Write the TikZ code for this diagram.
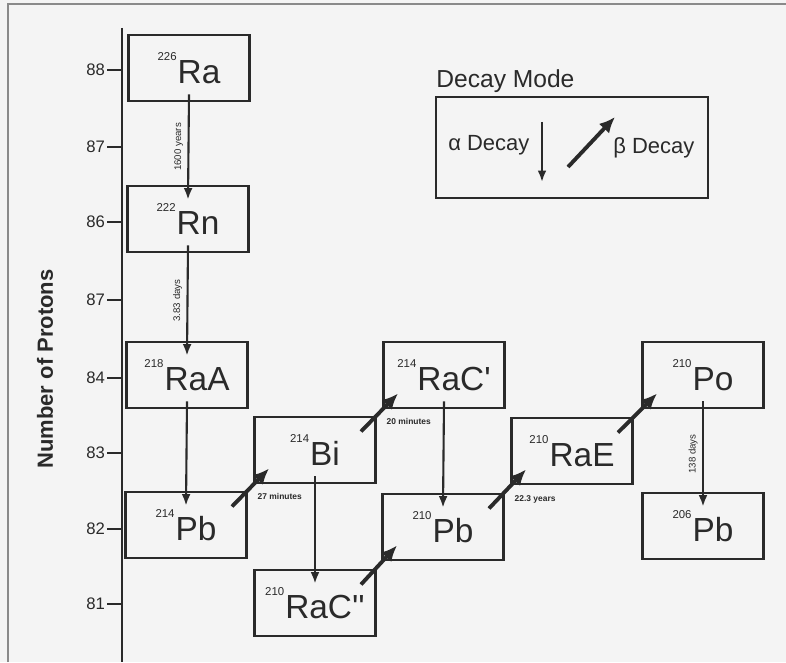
\documentclass[tikz,border=0pt]{standalone}
\usepackage{fontspec}
\setmainfont{Liberation Sans}
\usetikzlibrary{arrows.meta,positioning}
\definecolor{chainInk}{HTML}{2A2A2A}
\definecolor{chainPaper}{HTML}{F4F4F4}
\definecolor{chainFrame}{HTML}{8A8A8A}
\newcommand{\nucl}[2]{{\fontsize{6.5}{7}\selectfont\raisebox{13.4pt}{#1}}\kern0.6pt#2}

\begin{document}
\begin{tikzpicture}[x=0.02cm,y=-0.02cm,
  nuc/.style={draw=chainInk,line width=1.5pt,minimum width=2.42cm,minimum height=1.32cm,
              inner sep=0pt,font=\fontsize{19}{21}\selectfont,text=chainInk},
  alp/.style={-{Latex[length=6.5pt,width=5pt]},line width=1.2pt,chainInk},
  bet/.style={-{Latex[length=9pt,width=8pt]},line width=2.2pt,chainInk},
  tk/.style={font=\fontsize{9.5}{10}\selectfont,text=chainInk,anchor=east,inner sep=1pt},
  hl/.style={font=\fontsize{5.5}{6}\selectfont,text=chainInk,inner sep=2.5pt,rotate=90,anchor=south},
  hm/.style={font=\bfseries\fontsize{4.8}{5}\selectfont,text=chainInk,inner sep=1pt,
             anchor=north west,xshift=2pt,yshift=-1.5pt}]
  % paper and scan edge
  \fill[chainPaper] (0,0) rectangle (786,662);
  \useasboundingbox (0,0) rectangle (786,662);
  \draw[chainFrame,line width=0.8pt] (8,662) -- (8,4) -- (786,4);

  % proton axis
  \coordinate (axt) at (122,28); \coordinate (axb) at (122,662);
  \draw[line width=1.1pt,chainInk] (axt) -- (axb);
  \node[rotate=90,font=\bfseries\fontsize{12.5}{13}\selectfont,text=chainInk] (yl) at (45,369) {Number of Protons};
  \node[tk] (t1) at (107,70)  {88}; \node[tk] (t2) at (107,147) {87};
  \node[tk] (t3) at (107,222) {86}; \node[tk] (t4) at (107,300) {87};
  \node[tk] (t5) at (107,378) {84}; \node[tk] (t6) at (107,453) {83};
  \node[tk] (t7) at (107,529) {82}; \node[tk] (t8) at (107,604) {81};
  \draw[line width=1.1pt,chainInk] (t1.east)--(t1.east -| axt) (t2.east)--(t2.east -| axt)
    (t3.east)--(t3.east -| axt) (t4.east)--(t4.east -| axt) (t5.east)--(t5.east -| axt)
    (t6.east)--(t6.east -| axt) (t7.east)--(t7.east -| axt) (t8.east)--(t8.east -| axt);

  % nuclides
  \node[nuc] (ra)   at (189,68)  {\nucl{226}{Ra}};
  \node[nuc] (rn)   at (188,219) {\nucl{222}{Rn}};
  \node[nuc] (raa)  at (187,375) {\nucl{218}{RaA}};
  \node[nuc] (pba)  at (186,525) {\nucl{214}{Pb}};
  \node[nuc] (bi)   at (315,450) {\nucl{214}{Bi}};
  \node[nuc] (rac)  at (444,375) {\nucl{214}{RaC\textquotesingle}};
  \node[nuc] (pbb)  at (443,527) {\nucl{210}{Pb}};
  \node[nuc] (racc) at (315,603) {\nucl{210}{RaC\textquotesingle\textquotesingle}};
  \node[nuc] (rae)  at (572,451) {\nucl{210}{RaE}};
  \node[nuc] (po)   at (703,375) {\nucl{210}{Po}};
  \node[nuc] (pbc)  at (703,526) {\nucl{206}{Pb}};

  % alpha decays
  \draw[alp] ([yshift=4.5pt]ra.south) -- ([yshift=-8.5pt]rn.north) node[midway,hl]{1600 years};
  \draw[alp] ([yshift=4.5pt]rn.south) -- ([yshift=-8.5pt]raa.north) node[midway,hl]{3.83 days};
  \draw[alp] ([yshift=4.5pt]raa.south) -- ([yshift=-8.5pt]pba.north);
  \draw[alp] ([yshift=4.5pt]bi.south) -- ([yshift=-8.5pt]racc.north);
  \draw[alp] ([yshift=4.5pt]rac.south) -- ([yshift=-8.5pt]pbb.north);
  \draw[alp] ([yshift=4.5pt]po.south) -- ([yshift=-8.5pt]pbc.north) node[midway,hl]{138 days};

  % beta decays
  \draw[bet] ([shift={(-9pt,-9pt)}]pba.north east) -- ([shift={(9pt,9pt)}]bi.south west) node[pos=.5,hm]{27 minutes};
  \draw[bet] ([shift={(-9pt,-9pt)}]bi.north east) -- ([shift={(9pt,9pt)}]rac.south west) node[pos=.5,hm]{20 minutes};
  \draw[bet] ([shift={(-9pt,-9pt)}]racc.north east) -- ([shift={(9pt,9pt)}]pbb.south west);
  \draw[bet] ([shift={(-9pt,-9pt)}]pbb.north east) -- ([shift={(9pt,9pt)}]rae.south west) node[pos=.5,hm]{22.3 years};
  \draw[bet] ([shift={(-9pt,-9pt)}]rae.north east) -- ([shift={(9pt,9pt)}]po.south west);

  % legend
  \node[draw=chainInk,line width=1.1pt,minimum width=5.44cm,minimum height=2.02cm] (dm) at (572,147.5) {};
  \node[anchor=base west,inner sep=0,font=\fontsize{14}{15}\selectfont,text=chainInk] (dmt) at (436,88) {Decay Mode};
  \node[anchor=west,inner sep=0,font=\fontsize{12.5}{13}\selectfont,text=chainInk] (ad) at (448,145) {α Decay};
  \node[anchor=west,inner sep=0,font=\fontsize{12.5}{13}\selectfont,text=chainInk] (bd) at (613,148) {β Decay};
  \coordinate (a1) at (542,122); \coordinate (a2) at (542,182);
  \coordinate (b1) at (568,167); \coordinate (b2) at (615,117);
  \draw[alp] (a1) -- (a2);
  \draw[bet] (b1) -- (b2);
\end{tikzpicture}
\end{document}
